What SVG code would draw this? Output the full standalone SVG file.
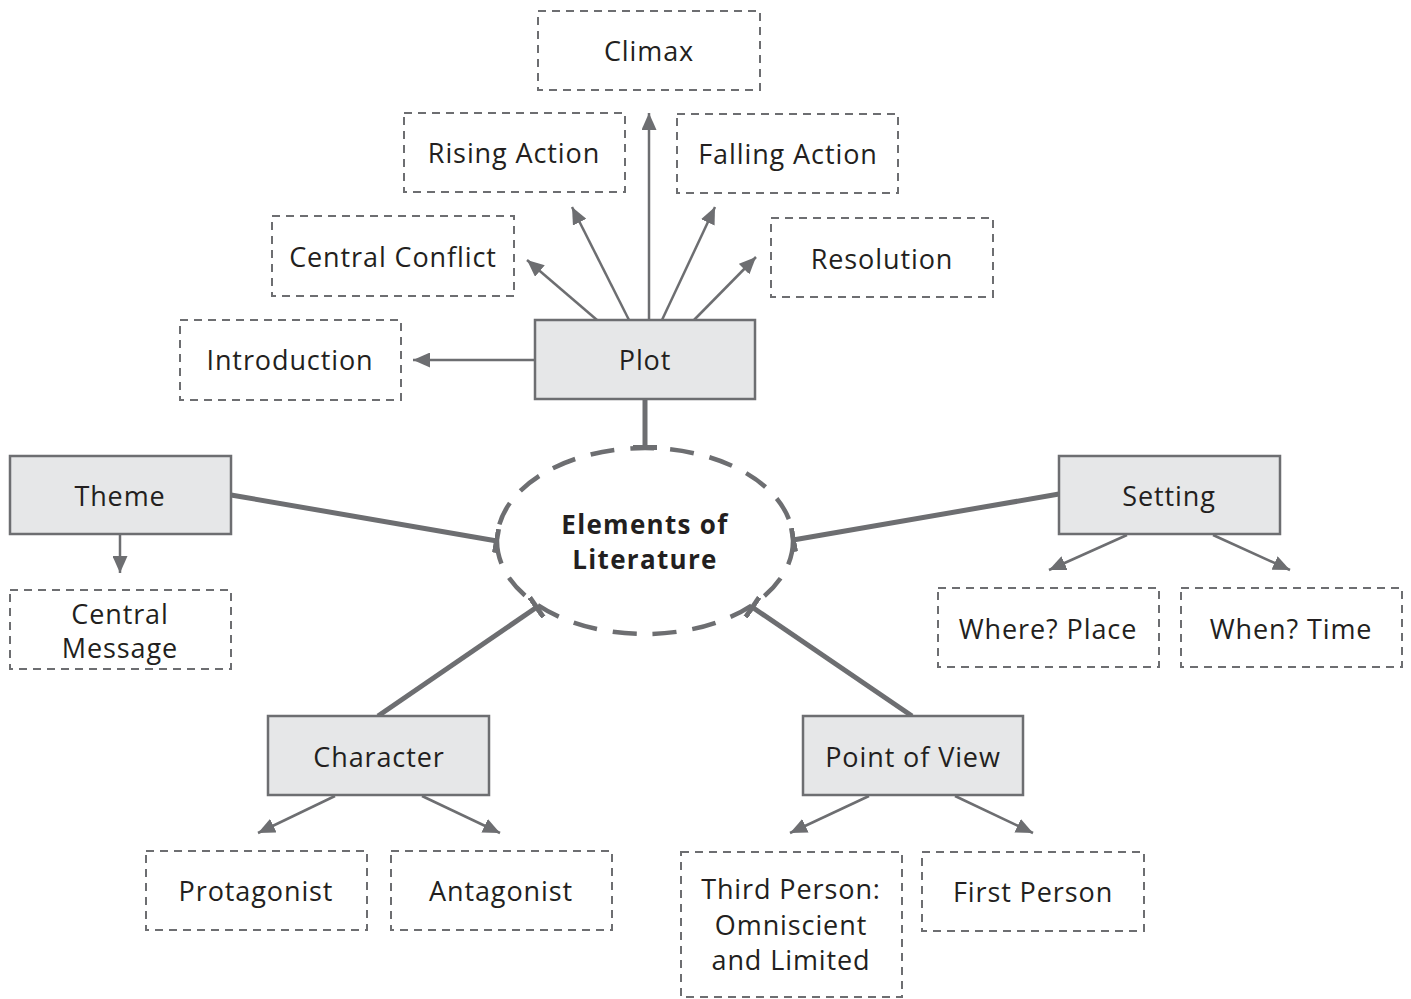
<svg xmlns="http://www.w3.org/2000/svg" width="1411" height="999" viewBox="0 0 1411 999">
<defs>
<style>
.main{fill:#e6e7e8;stroke:#6d6e71;stroke-width:2.5}
.sub{fill:#fff;stroke:#6d6e71;stroke-width:2;stroke-dasharray:8 6}
.t{font-family:"Open Sans","Noto Sans",sans-serif;font-size:27px;letter-spacing:0.9px;fill:#231f20;text-anchor:middle}
.b{font-family:"Open Sans","Noto Sans",sans-serif;font-size:26px;letter-spacing:1.3px;font-weight:bold;fill:#231f20;text-anchor:middle}
.arr{stroke:#6d6e71;stroke-width:2.5;fill:none;marker-end:url(#ah)}
.tc{stroke:#6d6e71;stroke-width:5;fill:none;marker-end:url(#tb)}
</style>
<marker id="ah" viewBox="-17 -7.5 18 15" refX="0" refY="0" markerWidth="18" markerHeight="15" markerUnits="userSpaceOnUse" orient="auto">
<path d="M0,0 L-17,-7.5 L-17,7.5 Z" fill="#6d6e71"/>
</marker>
<marker id="tb" viewBox="-3 -12 6 24" refX="0" refY="0" markerWidth="6" markerHeight="24" markerUnits="userSpaceOnUse" orient="auto">
<rect x="-3" y="-12" width="5" height="24" fill="#6d6e71"/>
</marker>
</defs>
<g id="center">
<ellipse cx="645" cy="541" rx="148" ry="93" fill="#fff" stroke="#6d6e71" stroke-width="4.5" stroke-dasharray="24 16"/>
<text class="b" x="645" y="534">Elements of</text>
<text class="b" x="645" y="569">Literature</text>
</g>
<g id="connectors">
<line class="tc" x1="645" y1="399" x2="645" y2="448"/>
<line class="tc" x1="231" y1="495" x2="497" y2="541"/>
<line class="tc" x1="1059" y1="494" x2="793" y2="540"/>
<line class="tc" x1="378" y1="716" x2="537" y2="607"/>
<line class="tc" x1="912" y1="716" x2="752" y2="607"/>
<line class="arr" x1="535" y1="360" x2="413" y2="360"/>
<line class="arr" x1="597" y1="320" x2="527" y2="260"/>
<line class="arr" x1="629" y1="320" x2="572" y2="207"/>
<line class="arr" x1="649" y1="320" x2="649" y2="113"/>
<line class="arr" x1="662" y1="320" x2="715" y2="207"/>
<line class="arr" x1="694" y1="320" x2="756" y2="257"/>
<line class="arr" x1="120" y1="534" x2="120" y2="573"/>
<line class="arr" x1="1127" y1="535" x2="1049" y2="570"/>
<line class="arr" x1="1213" y1="535" x2="1290" y2="570"/>
<line class="arr" x1="335" y1="796" x2="258" y2="833"/>
<line class="arr" x1="422" y1="796" x2="500" y2="833"/>
<line class="arr" x1="869" y1="796" x2="790" y2="833"/>
<line class="arr" x1="955" y1="796" x2="1033" y2="833"/>
</g>
<g id="plot"><rect class="main" x="535" y="320" width="220" height="79"/><text class="t" x="645" y="370">Plot</text></g>
<g id="theme"><rect class="main" x="10" y="456" width="221" height="78"/><text class="t" x="120" y="506">Theme</text></g>
<g id="setting"><rect class="main" x="1059" y="456" width="221" height="78"/><text class="t" x="1169" y="506">Setting</text></g>
<g id="character"><rect class="main" x="268" y="716" width="221" height="79"/><text class="t" x="379" y="767">Character</text></g>
<g id="pov"><rect class="main" x="803" y="716" width="220" height="79"/><text class="t" x="913" y="767">Point of View</text></g>
<g id="climax"><rect class="sub" x="538" y="11" width="222" height="79"/><text class="t" x="649" y="61">Climax</text></g>
<g id="rising"><rect class="sub" x="404" y="113" width="221" height="79"/><text class="t" x="514" y="163">Rising Action</text></g>
<g id="falling"><rect class="sub" x="677" y="114" width="221" height="79"/><text class="t" x="788" y="164">Falling Action</text></g>
<g id="conflict"><rect class="sub" x="272" y="216" width="242" height="80"/><text class="t" x="393" y="267">Central Conflict</text></g>
<g id="resolution"><rect class="sub" x="771" y="218" width="222" height="79"/><text class="t" x="882" y="269">Resolution</text></g>
<g id="introduction"><rect class="sub" x="180" y="320" width="221" height="80"/><text class="t" x="290" y="370">Introduction</text></g>
<g id="message"><rect class="sub" x="10" y="590" width="221" height="79"/><text class="t" x="120" y="624">Central</text><text class="t" x="120" y="658">Message</text></g>
<g id="place"><rect class="sub" x="938" y="588" width="221" height="79"/><text class="t" x="1048" y="639">Where? Place</text></g>
<g id="time"><rect class="sub" x="1181" y="588" width="221" height="79"/><text class="t" x="1291" y="639">When? Time</text></g>
<g id="protagonist"><rect class="sub" x="146" y="851" width="221" height="79"/><text class="t" x="256" y="901">Protagonist</text></g>
<g id="antagonist"><rect class="sub" x="391" y="851" width="221" height="79"/><text class="t" x="501" y="901">Antagonist</text></g>
<g id="third"><rect class="sub" x="681" y="852" width="221" height="145"/><text class="t" x="791" y="899">Third Person:</text><text class="t" x="791" y="935">Omniscient</text><text class="t" x="791" y="970">and Limited</text></g>
<g id="first"><rect class="sub" x="922" y="852" width="222" height="79"/><text class="t" x="1033" y="902">First Person</text></g>
</svg>
